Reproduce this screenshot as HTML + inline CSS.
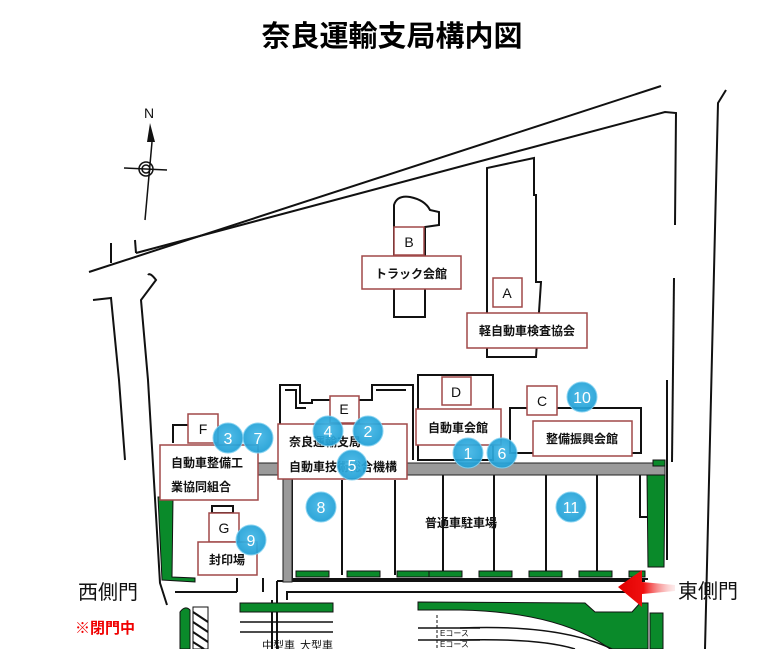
<!DOCTYPE html>
<html><head><meta charset="utf-8">
<style>
html,body{margin:0;padding:0;background:#fff;}
svg{display:block;}
text{font-family:"Liberation Sans","Noto Sans CJK JP",sans-serif;}
</style></head><body>
<svg width="778" height="649" viewBox="0 0 778 649" xmlns="http://www.w3.org/2000/svg">
<defs>
<radialGradient id="cg" cx="50%" cy="45%" r="55%">
<stop offset="0" stop-color="#45b8e6"/><stop offset="1" stop-color="#1f9fd6"/>
</radialGradient>
<linearGradient id="ag" x1="0" x2="1">
<stop offset="0" stop-color="#e00000"/><stop offset="0.45" stop-color="#f01010"/><stop offset="1" stop-color="#f8c0c0" stop-opacity="0.3"/>
</linearGradient>
</defs>
<rect width="778" height="649" fill="#fff"/>
<text x="392" y="46" font-size="29" font-weight="bold" text-anchor="middle" fill="#000">奈良運輸支局構内図</text>

<g fill="none" stroke="#111" stroke-width="2">
<line x1="89" y1="272" x2="661" y2="86"/>
<path d="M136 253 L665 112 L676 113 L675 225"/>
<path d="M674 278 L672 462"/>
<path d="M726 90 L718 103 L705 649"/>
<line x1="111" y1="243" x2="111" y2="263"/>
<line x1="135" y1="240" x2="136" y2="253"/>
<path d="M93 300 L111 298 L119 380 L125 460"/>
<path d="M148 275 Q150 272 156 280 L141 300 L148 380 L160 583 L167 605"/>
<line x1="152" y1="142" x2="145" y2="220" stroke-width="1.5"/>
<line x1="124" y1="168" x2="167" y2="170" stroke-width="1.5"/>
<circle cx="146" cy="169" r="7" stroke-width="1.5"/>
<circle cx="146" cy="169" r="4" stroke-width="1.5"/>
<path d="M394 317 L394 205 Q397 195 410 197 Q425 200 430 210 L439 212 L439 225 L425 227 L425 317 Z"/>
<path d="M487 168 L487 357 L536 357 L541 282 L536 282 L536 195 L534 195 L534 158 L487 168 Z"/>
<path d="M280 460 L280 385 L300 385 L300 403 L312 403 L312 400 L330 400 M359 400 L372 400 L372 385 L413 385 L413 460"/>
<path d="M285 390 L296 390 L296 408 L306 408 M376 390 L406 390"/>
<rect x="418" y="375" width="75" height="85"/>
<rect x="510" y="408" width="131" height="45"/>
<path d="M173 443 L173 425 L188 425"/>
<rect x="212" y="506" width="21" height="7"/>
<line x1="292" y1="475" x2="292" y2="580"/>
<line x1="342" y1="480" x2="342" y2="575"/>
<line x1="395" y1="480" x2="395" y2="575"/>
<line x1="443" y1="475" x2="443" y2="575"/>
<line x1="494" y1="475" x2="494" y2="575"/>
<line x1="546" y1="475" x2="546" y2="575"/>
<line x1="597" y1="475" x2="597" y2="575"/>
<path d="M640 475 L640 517 L647 517"/>
<line x1="292" y1="579" x2="648" y2="579"/>
<line x1="277" y1="581" x2="645" y2="581"/>
<path d="M287 600 L287 592 L640 592"/>
<line x1="272" y1="600" x2="272" y2="649"/>
<line x1="277" y1="581" x2="277" y2="649"/>
<line x1="175" y1="592" x2="237" y2="592"/>
<line x1="237" y1="578" x2="237" y2="592"/>
<line x1="263" y1="578" x2="263" y2="592"/>
<line x1="240" y1="622" x2="333" y2="622" stroke-width="1.5"/>
<line x1="240" y1="632" x2="333" y2="632" stroke-width="1.5"/>
<line x1="418" y1="628" x2="480" y2="628" stroke-width="1.5"/>
<line x1="418" y1="640" x2="480" y2="640" stroke-width="1.5"/>
<line x1="437" y1="615" x2="437" y2="649" stroke-width="1" stroke-dasharray="3,2"/>
<line x1="667" y1="380" x2="667" y2="560"/>
<line x1="170" y1="500" x2="170" y2="577"/>
</g>

<rect x="258" y="463" width="407" height="12" fill="#9a9a9a" stroke="#222" stroke-width="1"/>
<rect x="283" y="470" width="9" height="112" fill="#9a9a9a" stroke="#222" stroke-width="1"/>

<g fill="#0a8a2a" stroke="#111" stroke-width="1">
<path d="M647 475 L665 475 L664 567 L648 567 Z"/>
<rect x="653" y="460" width="12" height="6"/>
<path d="M158 497 L173 497 L172 577 L195 578 L195 582 L162 580 Z"/>
<rect x="296" y="571" width="33" height="6"/>
<rect x="347" y="571" width="33" height="6"/>
<rect x="397" y="571" width="33" height="6"/>
<rect x="429" y="571" width="33" height="6"/>
<rect x="479" y="571" width="33" height="6"/>
<rect x="529" y="571" width="33" height="6"/>
<rect x="579" y="571" width="33" height="6"/>
<rect x="629" y="571" width="16" height="6"/>
<rect x="240" y="603" width="93" height="9"/>
<path d="M418 602 L585 603 L595 612 L632 612 L640 603 L648 603 L648 649 L610 649 Q560 612 460 610 L418 610 Z"/>
<rect x="650" y="613" width="13" height="36"/>
<path d="M180 649 L180 612 Q185 605 190 610 L190 649 Z"/>
</g>
<g fill="none" stroke="#111" stroke-width="1.5">
<path d="M460 628 Q560 624 612 649"/>
<path d="M460 640 Q540 638 575 649"/>
</g>
<rect x="193" y="607" width="15" height="42" fill="#fff" stroke="#111"/>
<g stroke="#111" stroke-width="2"><line x1="193" y1="612" x2="208" y2="622"/><line x1="193" y1="622" x2="208" y2="632"/><line x1="193" y1="632" x2="208" y2="642"/><line x1="193" y1="642" x2="204" y2="649"/></g>

<g fill="#fff" stroke="#a04848" stroke-width="1.5">
<rect x="394" y="227" width="30" height="28"/>
<rect x="362" y="256" width="99" height="33"/>
<rect x="493" y="278" width="29" height="29"/>
<rect x="467" y="313" width="120" height="35"/>
<rect x="442" y="377" width="29" height="28"/>
<rect x="416" y="409" width="85" height="36"/>
<rect x="527" y="386" width="30" height="29"/>
<rect x="533" y="421" width="99" height="35"/>
<rect x="330" y="396" width="29" height="27"/>
<rect x="278" y="424" width="129" height="55"/>
<rect x="188" y="414" width="30" height="29"/>
<rect x="160" y="445" width="98" height="55"/>
<rect x="209" y="513" width="30" height="29"/>
<rect x="198" y="542" width="59" height="33"/>
</g>
<g font-size="12" font-weight="bold" fill="#111">
<text x="409" y="247" text-anchor="middle" font-size="14" font-weight="normal">B</text>
<text x="411" y="278" text-anchor="middle">トラック会館</text>
<text x="507" y="298" text-anchor="middle" font-size="14" font-weight="normal">A</text>
<text x="527" y="335" text-anchor="middle">軽自動車検査協会</text>
<text x="456" y="397" text-anchor="middle" font-size="14" font-weight="normal">D</text>
<text x="458" y="432" text-anchor="middle">自動車会館</text>
<text x="542" y="406" text-anchor="middle" font-size="14" font-weight="normal">C</text>
<text x="582" y="443" text-anchor="middle">整備振興会館</text>
<text x="344" y="414" text-anchor="middle" font-size="14" font-weight="normal">E</text>
<text x="289" y="446">奈良運輸支局</text>
<text x="289" y="471">自動車技術総合機構</text>
<text x="203" y="434" text-anchor="middle" font-size="14" font-weight="normal">F</text>
<text x="171" y="467">自動車整備工</text>
<text x="171" y="491">業協同組合</text>
<text x="224" y="533" text-anchor="middle" font-size="14" font-weight="normal">G</text>
<text x="227" y="564" text-anchor="middle">封印場</text>
<text x="461" y="527" text-anchor="middle">普通車駐車場</text>
</g>
<text x="262" y="649" font-size="11" fill="#111">中型車</text>
<text x="300" y="649" font-size="11" fill="#111">大型車</text>
<text x="440" y="636" font-size="8" fill="#111">Eコース</text>
<text x="440" y="647" font-size="8" fill="#111">Eコース</text>

<g fill="url(#cg)" stroke="#7fd0f0" stroke-width="1" opacity="0.93">
<circle cx="228" cy="438" r="15"/><circle cx="258" cy="438" r="15"/>
<circle cx="328" cy="431" r="15"/><circle cx="368" cy="431" r="15"/>
<circle cx="352" cy="465" r="15"/><circle cx="321" cy="507" r="15"/>
<circle cx="251" cy="540" r="15"/><circle cx="582" cy="397" r="15"/>
<circle cx="468" cy="453" r="15"/><circle cx="502" cy="453" r="15"/>
<circle cx="571" cy="507" r="15"/>
</g>
<g fill="#fff" font-size="16" text-anchor="middle">
<text x="228" y="444">3</text><text x="258" y="444">7</text>
<text x="328" y="437">4</text><text x="368" y="437">2</text>
<text x="352" y="471">5</text><text x="321" y="513">8</text>
<text x="251" y="546">9</text><text x="582" y="403">10</text>
<text x="468" y="459">1</text><text x="502" y="459">6</text>
<text x="571" y="513">11</text>
</g>

<path d="M618 587 L642 570 L642 582 L675 585 L675 591 L642 594 L642 607 Z" fill="url(#ag)"/>
<text x="678" y="598" font-size="20" fill="#111">東側門</text>
<text x="78" y="599" font-size="20" fill="#111">西側門</text>
<text x="75" y="633" font-size="15" font-weight="bold" fill="#f00000">※閉門中</text>
<text x="149" y="118" font-size="14" text-anchor="middle" fill="#111">N</text>
<path d="M150 123 L147 142 L155 142 Z" fill="#111"/>
</svg>
</body></html>
